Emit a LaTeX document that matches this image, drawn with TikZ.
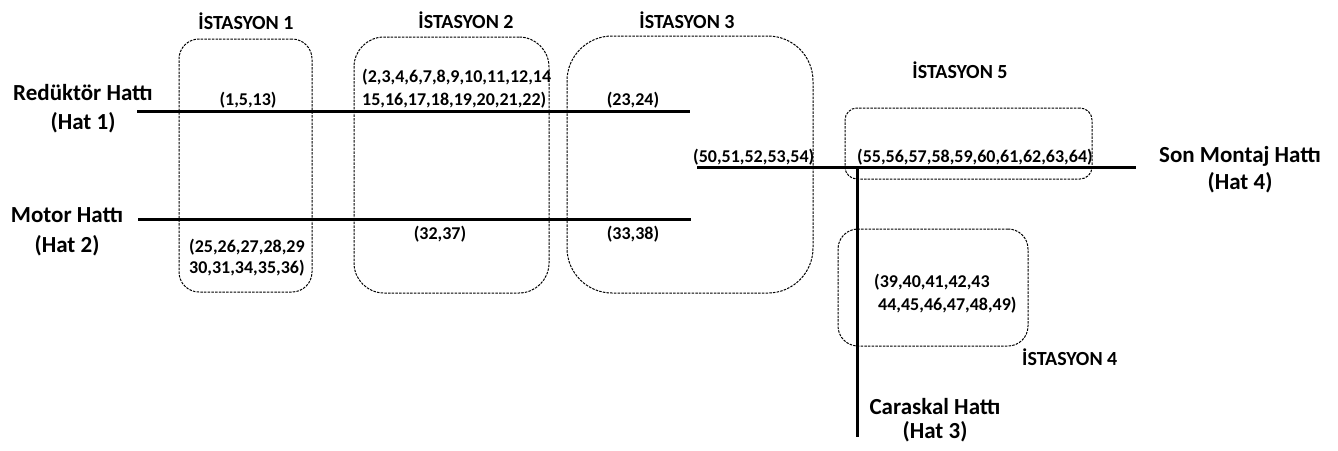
\documentclass[tikz,border=0pt]{standalone}
\usepackage{fontspec}
\setmainfont{Carlito}
\begin{document}
\begin{tikzpicture}[x=1pt,y=-1pt,
  hat/.style={line width=3pt},
  station/.style={draw, dash pattern=on 2.5pt off 1.2pt, line width=1pt, rectangle, inner sep=0pt},
  lbl/.style={font=\fontsize{23}{29}\selectfont\bfseries, align=center, inner sep=0pt},
  num/.style={font=\fontsize{18}{23}\selectfont\bfseries, inner sep=0pt, align=left},
  sttitle/.style={font=\fontsize{20}{24}\selectfont\bfseries, inner sep=0pt}]
\useasboundingbox (0,0) rectangle (1338,450);

% station boxes
\node[station, rounded corners=20pt, minimum width=133pt, minimum height=253pt] (st1) at (245.5,165.5) {};
\node[station, rounded corners=30pt, minimum width=195pt, minimum height=256pt] (st2) at (451.5,165) {};
\node[station, rounded corners=45pt, minimum width=246pt, minimum height=257pt] (st3) at (690,164.5) {};
\node[station, rounded corners=12pt, minimum width=247pt, minimum height=71pt] (st5) at (968.5,143.5) {};
\node[station, rounded corners=20pt, minimum width=190pt, minimum height=117pt] (st4) at (933,287.5) {};

% line end points
\coordinate (h1s) at (137,111);
\coordinate (h1e) at (690,111);
\coordinate (h2s) at (138,219);
\coordinate (h2e) at (691,219);
\coordinate (h4s) at (697,167);
\coordinate (h4e) at (1136,167);
\coordinate (j) at (857,167);
\coordinate (h3e) at (857,437);

\draw[hat] (h1s) -- (h1e);
\draw[hat] (h2s) -- (h2e);
\draw[hat] (h4s) -- (h4e);
\draw[hat] (j) -- (h3e);

% station titles
\node[sttitle] (t1) at (246,21) {İSTASYON 1};
\node[sttitle] (t2) at (466,20) {İSTASYON 2};
\node[sttitle] (t3) at (687,20) {İSTASYON 3};
\node[sttitle] (t5) at (960,70) {İSTASYON 5};
\node[sttitle, anchor=west] (t4) at (1022,357) {İSTASYON 4};

% numbers
\node[num] (n1) at (248,100) {(1,5,13)};
\node[num, anchor=west] (n2) at (362,88.5) {(2,3,4,6,7,8,9,10,11,12,14\\15,16,17,18,19,20,21,22)};
\node[num] (n3) at (633,100) {(23,24)};
\node[num] (n4) at (440,234) {(32,37)};
\node[num] (n5) at (633,234) {(33,38)};
\node[num, anchor=west, font=\fontsize{18}{21}\selectfont\bfseries] (n6) at (189,257.5) {(25,26,27,28,29\\30,31,34,35,36)};
\node[num, anchor=west] (n7) at (693,157) {(50,51,52,53,54)};
\node[num, anchor=west] (n8) at (857,157) {(55,56,57,58,59,60,61,62,63,64)};
\node[num, anchor=west] (n9) at (874,293.5) {(39,40,41,42,43\\\hspace*{4pt}44,45,46,47,48,49)};

% line labels
\node[lbl] (l1) at (83,108.5) {Redüktör Hattı\\(Hat 1)};
\node[lbl, font=\fontsize{23}{30}\selectfont\bfseries] (l2) at (67,232) {Motor Hattı\\(Hat 2)};
\node[lbl, font=\fontsize{23}{27}\selectfont\bfseries] (l4) at (1240,170) {Son Montaj Hattı\\(Hat 4)};
\node[lbl, font=\fontsize{23}{24}\selectfont\bfseries] (l3) at (935,420) {Caraskal Hattı\\(Hat 3)};
\end{tikzpicture}
\end{document}
